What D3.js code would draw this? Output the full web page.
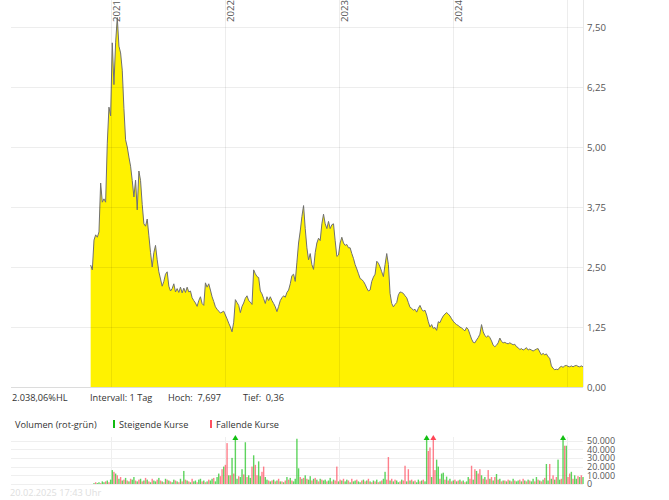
<!DOCTYPE html>
<html><head><meta charset="utf-8">
<script src="https://cdn.jsdelivr.net/npm/d3@7"></script>
<style>body{margin:0;background:#fff} svg{display:block} text{font-family:"Open Sans","Noto Sans",sans-serif}</style>
</head><body><svg id="c" width="669" height="500"></svg>
<script>
// ---------- data ----------
const axisStart = "2020-02-16", axisEnd = "2025-02-20";
const seriesStart = "2020-10-28", seriesEnd = "2025-02-20";
const prices = [
2.54,2.44,3.06,3.17,3.12,3.23,4.25,3.85,3.92,3.85,
5.08,5.83,5.65,7.17,6.3,7.17,7.697,7.1,6.96,6.6,
5.8,5.15,5.0,4.79,4.6,4.3,3.96,4.31,3.69,4.5,
4.3,3.8,3.4,3.35,3.5,3.15,2.8,2.5,2.8,2.95,
2.65,2.4,2.25,2.1,2.2,2.35,2.4,2.1,2.0,2.05,
2.15,1.98,2.05,1.97,2.08,1.96,2.06,1.97,2.08,1.98,
2.0,1.86,1.8,1.75,1.68,1.8,1.88,1.74,1.7,2.17,
2.08,2.15,2.02,1.88,1.78,1.67,1.62,1.58,1.54,1.56,
1.58,1.5,1.42,1.33,1.25,1.15,1.35,1.82,1.76,1.7,
1.55,1.68,1.75,1.85,1.9,1.8,1.77,1.72,2.44,2.36,
2.3,2.28,2.0,1.94,1.84,1.74,1.88,1.8,1.88,1.8,
1.74,1.67,1.57,1.68,1.8,1.86,1.9,1.87,1.97,2.02,
2.15,2.32,2.35,2.2,2.6,3.0,3.25,3.55,3.78,3.3,
2.9,2.65,2.78,2.55,2.45,2.8,3.0,3.1,3.05,3.4,
3.6,3.4,3.3,3.45,3.3,3.38,3.4,3.05,2.72,2.75,
3.0,3.12,3.0,2.95,2.97,2.9,2.9,2.78,2.68,2.55,
2.46,2.36,2.26,2.24,2.2,2.14,2.06,2.0,2.02,2.2,
2.29,2.35,2.62,2.58,2.5,2.4,2.3,2.55,2.78,2.55,
1.95,1.74,1.67,1.72,1.76,1.92,1.98,1.97,1.95,1.9,
1.86,1.76,1.66,1.64,1.6,1.62,1.56,1.64,1.7,1.62,
1.58,1.6,1.5,1.36,1.25,1.3,1.22,1.24,1.18,1.36,
1.34,1.42,1.48,1.52,1.55,1.52,1.48,1.42,1.37,1.33,
1.3,1.28,1.25,1.23,1.2,1.17,1.24,1.2,1.1,1.0,
0.93,0.92,0.98,1.03,1.1,1.3,1.15,1.07,1.04,1.07,
1.03,0.96,0.87,0.84,0.87,0.92,1.02,0.95,0.92,0.93,
0.91,0.9,0.92,0.9,0.88,0.89,0.84,0.82,0.78,0.8,
0.77,0.79,0.82,0.77,0.79,0.77,0.75,0.77,0.79,0.8,
0.73,0.67,0.7,0.67,0.69,0.63,0.6,0.44,0.39,0.36,
0.37,0.36,0.41,0.43,0.41,0.44,0.45,0.43,0.42,0.44,
0.42,0.44,0.45,0.43,0.42,0.44,0.42
];
// volume in thousands; positive = rising price (green), negative = falling (red)
const volumeK = [
0,0,1,-2,1,2,-1,3,2,-3,
4,-2,5,16,-14,12,-10,6,-8,4,
-5,7,-4,3,-6,5,8,-4,3,-5,
6,-3,4,-7,5,-3,2,-6,4,3,
-5,7,-4,3,-2,6,-5,4,-3,2,
5,-4,3,-2,6,-3,15,-5,4,-3,
2,-6,3,4,-2,5,6,-3,4,-2,
3,-5,4,6,-7,3,8,12,-9,-17,
20,-22,-47,10,-10,30,-12,65,6,-9,
8,17,-11,48,-8,10,7,-20,33,-22,
-10,26,9,-14,-20,8,5,-4,3,-4,
5,-3,4,-6,3,-3,2,-4,8,-5,
7,-4,3,6,52,18,-8,6,-7,10,
-6,5,9,-4,6,-7,5,-3,6,-5,
4,5,-3,4,7,-3,5,-4,-20,3,
-5,4,-6,3,5,-4,2,-6,3,4,
-5,3,2,-4,5,-3,4,-6,3,-2,
4,-3,5,-2,3,-4,6,14,-5,-31,
4,-6,3,-5,4,2,-3,5,-4,-21,
3,-17,4,-5,3,-4,2,5,-3,4,
-5,3,65,-38,-42,8,-65,-16,28,20,
-6,12,13,-5,8.5,-4,6,-3,4,-5,
3,-4,5,-3,4,-2,3,8,-6,-21,
5,-17,15,-12,-17,10,-6,8,-5,-16,
6,-8,4,-8,11.5,-5,6,-3,4,-4,
3,-5,4,-3,6,-4,3,4,-5,3,
-6,4,-3,5,-4,3,6,-3,8,-5,
4,-3,5,-7,23,4,-23,6,-10,5,
-8,28,5,-6,65,-44,44,-8,-12,14,
-6,10,6,-9,8,-10,8
];
const yearGrid = ["2021-01-01","2022-01-01","2023-01-01","2024-01-01","2025-01-01"];
const yearLabels = ["2021","2022","2023","2024"];
const priceTicks = [0,1.25,2.5,3.75,5,6.25,7.5];
const volumeTicks = [0,10,20,30,40,50];
const infoTexts = ["2.038,06%HL","Intervall: 1 Tag","Hoch:  7,697","Tief:  0,36"];
const legendTexts = ["Volumen (rot-grün)","Steigende Kurse","Fallende Kurse"];
const stampText = "20.02.2025 17:43 Uhr";

// ---------- drawing ----------
const svg = d3.select("#c");
const parse = d3.timeParse("%Y-%m-%d");
const L = 11, R = 583;
const AX = 9.6, TX = 9.2, VX = 9;
const x = d3.scaleTime().domain([parse(axisStart), parse(axisEnd)]).range([L, R]);
const y = d3.scaleLinear().domain([0, 7.5]).range([387, 27]);
const yv = d3.scaleLinear().domain([0, 50]).range([484, 440.5]);
const vMax = yv.invert(437);

const s0 = parse(seriesStart), s1 = parse(seriesEnd);
const dateAt = (i, n) => new Date(+s0 + (s1 - s0) * i / (n - 1));
const pData = prices.map((v, i) => ({d: dateAt(i, prices.length), v}));
const vData = volumeK.map((v, i) => ({d: dateAt(i, volumeK.length), v}));

// price area + line
svg.append("path").datum(pData)
  .attr("d", d3.area().x(d => x(d.d)).y0(y(0)).y1(d => y(d.v)))
  .attr("fill", "#fff200");
svg.append("path").datum(pData)
  .attr("d", d3.line().x(d => x(d.d)).y(d => y(d.v)))
  .attr("fill", "none").attr("stroke", "#707070").attr("stroke-width", 1);

// price grid
const g = svg.append("g").attr("stroke", "rgba(0,0,0,0.07)").attr("shape-rendering", "crispEdges");
priceTicks.forEach(t => g.append("line").attr("x1", L).attr("x2", R).attr("y1", Math.round(y(t)) + 0.5).attr("y2", Math.round(y(t)) + 0.5));
yearGrid.forEach(t => g.append("line").attr("x1", Math.round(x(parse(t))) + 0.5).attr("x2", Math.round(x(parse(t))) + 0.5).attr("y1", 0).attr("y2", 387));
svg.append("line").attr("x1", R + 0.5).attr("x2", R + 0.5).attr("y1", 0).attr("y2", 387).attr("stroke", "#e8e8e8");
svg.append("line").attr("x1", L).attr("x2", R).attr("y1", 387.5).attr("y2", 387.5).attr("stroke", "#dcdcdc");

// year labels
yearLabels.forEach((t, i) => {
  const xx = x(parse(yearGrid[i])) + 9;
  svg.append("text").attr("transform", `translate(${xx},22) rotate(-90)`)
    .attr("font-size", AX).attr("fill", "#555").text(t);
});

// price axis labels
const fmtP = v => d3.format(".2f")(v).replace(".", ",");
priceTicks.forEach(t => svg.append("text").attr("x", 587).attr("y", y(t) + 3.5)
  .attr("font-size", AX).attr("fill", "#555").text(fmtP(t)));

// info row
const infoX = [12, 90, 168, 243];
infoTexts.forEach((t, i) => svg.append("text").attr("x", infoX[i]).attr("y", 401)
  .attr("font-size", TX).attr("fill", "#333").style("white-space", "pre").text(t));

// legend
svg.append("text").attr("x", 15).attr("y", 428).attr("font-size", TX).attr("fill", "#333").text(legendTexts[0]);
svg.append("rect").attr("x", 113).attr("y", 420).attr("width", 2).attr("height", 8).attr("fill", "#11bb11");
svg.append("text").attr("x", 119).attr("y", 428).attr("font-size", TX).attr("fill", "#333").text(legendTexts[1]);
svg.append("rect").attr("x", 210).attr("y", 420).attr("width", 2).attr("height", 8).attr("fill", "#ff5060");
svg.append("text").attr("x", 216).attr("y", 428).attr("font-size", TX).attr("fill", "#333").text(legendTexts[2]);

// volume grid
const gv = svg.append("g").attr("stroke", "#efefef").attr("shape-rendering", "crispEdges");
volumeTicks.forEach(t => gv.append("line").attr("x1", L).attr("x2", R).attr("y1", Math.round(yv(t)) + 0.5).attr("y2", Math.round(yv(t)) + 0.5));
yearGrid.forEach(t => gv.append("line").attr("x1", Math.round(x(parse(t))) + 0.5).attr("x2", Math.round(x(parse(t))) + 0.5).attr("y1", 437).attr("y2", 484));

// volume bars
const up = "#12bf12", down = "#ff4455";
svg.append("g").selectAll("rect").data(vData.filter(d => d.v !== 0)).join("rect")
  .attr("x", d => x(d.d) - 0.7).attr("width", 1.4)
  .attr("y", d => yv(Math.min(Math.abs(d.v), vMax)))
  .attr("height", d => yv(0) - yv(Math.min(Math.abs(d.v), vMax)))
  .attr("fill", d => d.v > 0 ? up : down).attr("opacity", 0.68);
// overflow arrows
svg.append("g").selectAll("path").data(vData.filter(d => Math.abs(d.v) > vMax)).join("path")
  .attr("d", d => { const cx = x(d.d); return `M${cx - 3},440 L${cx},435 L${cx + 3},440 Z`; })
  .attr("fill", d => d.v > 0 ? up : down);

// volume axis labels
const fmtV = v => d3.format(",")(v * 1000).replace(/,/g, ".");
volumeTicks.forEach(t => svg.append("text").attr("x", 587).attr("y", yv(t) + 3.3)
  .attr("font-size", VX).attr("fill", "#555").text(fmtV(t)));

// timestamp
svg.append("text").attr("x", 10).attr("y", 496).attr("font-size", TX).attr("fill", "#dedede").text(stampText);
</script></body></html>
